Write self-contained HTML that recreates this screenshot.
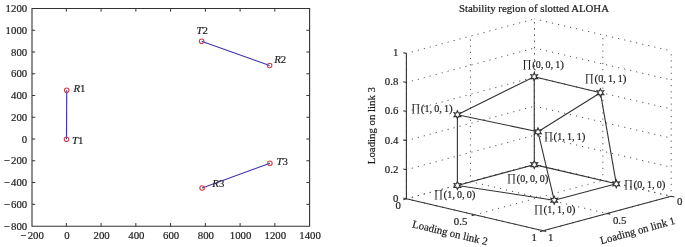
<!DOCTYPE html>
<html><head><meta charset="utf-8"><style>
html,body{margin:0;padding:0;background:#fff;}
svg{display:block;will-change:transform;}
.t{font-family:"Liberation Serif",serif;font-size:10.8px;fill:#1e1e1e;stroke:#1e1e1e;stroke-width:0.2px;}
.p{font-family:"Liberation Serif",serif;font-size:11px;fill:#1e1e1e;stroke:#1e1e1e;stroke-width:0.2px;}
.d{font-size:10px;}
</style></head><body>
<svg width="685" height="247" viewBox="0 0 685 247">
<rect width="685" height="247" fill="#fff"/>
<path d="M32.0 8.45H309.6V226.2H32.0Z" fill="none" stroke="#333" stroke-width="1.1"/>
<path d="M66.35 226.2v-3.2M66.35 8.45v3.2M101.10 226.2v-3.2M101.10 8.45v3.2M135.85 226.2v-3.2M135.85 8.45v3.2M170.60 226.2v-3.2M170.60 8.45v3.2M205.35 226.2v-3.2M205.35 8.45v3.2M240.10 226.2v-3.2M240.10 8.45v3.2M274.85 226.2v-3.2M274.85 8.45v3.2M32.0 204.30h3.2M309.6 204.30h-3.2M32.0 182.54h3.2M309.6 182.54h-3.2M32.0 160.79h3.2M309.6 160.79h-3.2M32.0 139.03h3.2M309.6 139.03h-3.2M32.0 117.28h3.2M309.6 117.28h-3.2M32.0 95.52h3.2M309.6 95.52h-3.2M32.0 73.77h3.2M309.6 73.77h-3.2M32.0 52.01h3.2M309.6 52.01h-3.2M32.0 30.26h3.2M309.6 30.26h-3.2" stroke="#333" stroke-width="1" fill="none"/>
<text x="32.10" y="239.2" text-anchor="middle" class="t">−<tspan dx="1.2">200</tspan></text>
<text x="66.85" y="239.2" text-anchor="middle" class="t">0</text>
<text x="101.60" y="239.2" text-anchor="middle" class="t">200</text>
<text x="136.35" y="239.2" text-anchor="middle" class="t">400</text>
<text x="171.10" y="239.2" text-anchor="middle" class="t">600</text>
<text x="205.85" y="239.2" text-anchor="middle" class="t">800</text>
<text x="240.60" y="239.2" text-anchor="middle" class="t">1000</text>
<text x="275.35" y="239.2" text-anchor="middle" class="t">1200</text>
<text x="310.10" y="239.2" text-anchor="middle" class="t">1400</text>
<text x="27.2" y="229.75" text-anchor="end" class="t">−<tspan dx="1.2">800</tspan></text>
<text x="27.2" y="208.00" text-anchor="end" class="t">−<tspan dx="1.2">600</tspan></text>
<text x="27.2" y="186.24" text-anchor="end" class="t">−<tspan dx="1.2">400</tspan></text>
<text x="27.2" y="164.49" text-anchor="end" class="t">−<tspan dx="1.2">200</tspan></text>
<text x="27.2" y="142.73" text-anchor="end" class="t">0</text>
<text x="27.2" y="120.98" text-anchor="end" class="t">200</text>
<text x="27.2" y="99.22" text-anchor="end" class="t">400</text>
<text x="27.2" y="77.47" text-anchor="end" class="t">600</text>
<text x="27.2" y="55.71" text-anchor="end" class="t">800</text>
<text x="27.2" y="33.96" text-anchor="end" class="t">1000</text>
<text x="27.2" y="12.20" text-anchor="end" class="t">1200</text>
<line x1="66.5" y1="139.3" x2="66.7" y2="90.2" stroke="#4036aa" stroke-width="1.15"/>
<line x1="201.6" y1="41.2" x2="269.6" y2="65.5" stroke="#4036aa" stroke-width="1.15"/>
<line x1="269.9" y1="163.3" x2="202.1" y2="188" stroke="#4036aa" stroke-width="1.15"/>
<circle cx="66.7" cy="90.2" r="2.25" fill="none" stroke="#c8444f" stroke-width="1.1"/>
<circle cx="66.5" cy="139.3" r="2.25" fill="none" stroke="#c8444f" stroke-width="1.1"/>
<circle cx="201.6" cy="41.2" r="2.25" fill="none" stroke="#c8444f" stroke-width="1.1"/>
<circle cx="269.6" cy="65.5" r="2.25" fill="none" stroke="#c8444f" stroke-width="1.1"/>
<circle cx="269.9" cy="163.3" r="2.25" fill="none" stroke="#c8444f" stroke-width="1.1"/>
<circle cx="202.1" cy="188" r="2.25" fill="none" stroke="#c8444f" stroke-width="1.1"/>
<text x="73.4" y="91.6" class="t"><tspan font-style="italic">R</tspan>1</text>
<text x="72" y="144.4" class="t"><tspan font-style="italic">T</tspan>1</text>
<text x="196.6" y="33.6" class="t"><tspan font-style="italic">T</tspan>2</text>
<text x="274.2" y="63.4" class="t"><tspan font-style="italic">R</tspan>2</text>
<text x="276.6" y="165.3" class="t"><tspan font-style="italic">T</tspan>3</text>
<text x="212.3" y="186.7" class="t"><tspan font-style="italic">R</tspan>3</text>
<path d="M406.40 198.80L534.50 164.30M534.50 164.30L671.20 196.30M474.75 214.80L602.85 180.30M470.45 181.55L607.15 213.55M543.10 230.80L671.20 196.30M406.40 198.80L543.10 230.80M406.40 198.80L534.50 164.30M534.50 164.30L671.20 196.30M406.40 169.72L534.50 135.22M534.50 135.22L671.20 167.22M406.40 140.64L534.50 106.14M534.50 106.14L671.20 138.14M406.40 111.56L534.50 77.06M534.50 77.06L671.20 109.06M406.40 82.48L534.50 47.98M534.50 47.98L671.20 79.98M406.40 53.40L534.50 18.90M534.50 18.90L671.20 50.90" stroke="#555" stroke-width="1" stroke-dasharray="1.2 4.975" stroke-dashoffset="0.6" fill="none"/>
<path d="M534.50 164.30L534.50 18.90M534.50 164.30L534.50 18.90M470.45 181.55L470.45 36.15M602.85 180.30L602.85 34.90M406.40 198.80L406.40 53.40M671.20 196.30L671.20 50.90" stroke="#555" stroke-width="1" stroke-dasharray="1.2 4.975" stroke-dashoffset="1.1" fill="none"/>
<path d="M406.40 198.80L406.40 53.40M406.40 198.80L543.10 230.80M543.10 230.80L671.20 196.30M406.40 198.80l-3.12 -0.73M406.40 169.72l-3.12 -0.73M406.40 140.64l-3.12 -0.73M406.40 111.56l-3.12 -0.73M406.40 82.48l-3.12 -0.73M406.40 53.40l-3.12 -0.73M406.40 198.80l-3.09 0.83M671.20 196.30l3.12 0.73M474.75 214.80l-3.09 0.83M607.15 213.55l3.12 0.73M543.10 230.80l-3.09 0.83M543.10 230.80l3.12 0.73" stroke="#333" stroke-width="1.1" fill="none"/>
<text x="398.3" y="201.70" text-anchor="end" class="t">0</text>
<text x="398.3" y="172.62" text-anchor="end" class="t">0.2</text>
<text x="398.3" y="143.54" text-anchor="end" class="t">0.4</text>
<text x="398.3" y="114.46" text-anchor="end" class="t">0.6</text>
<text x="398.3" y="85.38" text-anchor="end" class="t">0.8</text>
<text x="398.3" y="56.30" text-anchor="end" class="t">1</text>
<text x="398.2" y="208.50" text-anchor="middle" class="t">0</text>
<text x="460.6" y="224.80" text-anchor="middle" class="t">0.5</text>
<text x="534.2" y="241.00" text-anchor="middle" class="t">1</text>
<text x="550.7" y="241.00" text-anchor="middle" class="t">1</text>
<text x="619.7" y="224.10" text-anchor="middle" class="t">0.5</text>
<text x="679.6" y="205.30" text-anchor="middle" class="t">0</text>
<text transform="translate(375.2 125.6) rotate(-90)" text-anchor="middle" class="t">Loading on link 3</text>
<text transform="translate(449.2 236.2) rotate(13.4)" text-anchor="middle" class="t">Loading on link 2</text>
<text transform="translate(638.5 234) rotate(-15.4)" text-anchor="middle" class="t">Loading on link 1</text>
<text x="534" y="11.7" text-anchor="middle" class="t" style="stroke-width:0.22px">Stability region of slotted ALOHA</text>
<path d="M534.20 76.70L600.40 92.70M534.20 76.70L457.40 114.70M534.20 76.70L534.30 164.60M457.40 114.70L538.00 131.80M600.40 92.70L538.00 131.80M457.40 114.70L457.40 185.50M600.40 92.70L616.30 183.80M538.00 131.80L554.20 200.20M534.30 164.60L457.40 185.50M534.30 164.60L616.30 183.80M457.40 185.50L554.20 200.20M616.30 183.80L554.20 200.20" stroke="#333" stroke-width="1.1" fill="none"/>
<polygon points="534.20,72.80 535.20,74.97 537.58,74.75 536.20,76.70 537.58,78.65 535.20,78.43 534.20,80.60 533.20,78.43 530.82,78.65 532.20,76.70 530.82,74.75 533.20,74.97" fill="#fff" stroke="#333" stroke-width="1.1"/>
<polygon points="600.40,88.80 601.40,90.97 603.78,90.75 602.40,92.70 603.78,94.65 601.40,94.43 600.40,96.60 599.40,94.43 597.02,94.65 598.40,92.70 597.02,90.75 599.40,90.97" fill="#fff" stroke="#333" stroke-width="1.1"/>
<polygon points="457.40,110.80 458.40,112.97 460.78,112.75 459.40,114.70 460.78,116.65 458.40,116.43 457.40,118.60 456.40,116.43 454.02,116.65 455.40,114.70 454.02,112.75 456.40,112.97" fill="#fff" stroke="#333" stroke-width="1.1"/>
<polygon points="538.00,127.90 539.00,130.07 541.38,129.85 540.00,131.80 541.38,133.75 539.00,133.53 538.00,135.70 537.00,133.53 534.62,133.75 536.00,131.80 534.62,129.85 537.00,130.07" fill="#fff" stroke="#333" stroke-width="1.1"/>
<polygon points="534.30,160.70 535.30,162.87 537.68,162.65 536.30,164.60 537.68,166.55 535.30,166.33 534.30,168.50 533.30,166.33 530.92,166.55 532.30,164.60 530.92,162.65 533.30,162.87" fill="#fff" stroke="#333" stroke-width="1.1"/>
<polygon points="457.40,181.60 458.40,183.77 460.78,183.55 459.40,185.50 460.78,187.45 458.40,187.23 457.40,189.40 456.40,187.23 454.02,187.45 455.40,185.50 454.02,183.55 456.40,183.77" fill="#fff" stroke="#333" stroke-width="1.1"/>
<polygon points="616.30,179.90 617.30,182.07 619.68,181.85 618.30,183.80 619.68,185.75 617.30,185.53 616.30,187.70 615.30,185.53 612.92,185.75 614.30,183.80 612.92,181.85 615.30,182.07" fill="#fff" stroke="#333" stroke-width="1.1"/>
<polygon points="554.20,196.30 555.20,198.47 557.58,198.25 556.20,200.20 557.58,202.15 555.20,201.93 554.20,204.10 553.20,201.93 550.82,202.15 552.20,200.20 550.82,198.25 553.20,198.47" fill="#fff" stroke="#333" stroke-width="1.1"/>
<text x="522.3" y="68.0" class="p"><tspan dy="-0.9" stroke-width="0">∏</tspan><tspan dx="0.8" dy="0.9">(</tspan><tspan class="d">0</tspan>,<tspan class="d" dx="2">0</tspan>,<tspan class="d" dx="2">1</tspan>)</text>
<text x="584.6" y="81.8" class="p"><tspan dy="-0.9" stroke-width="0">∏</tspan><tspan dx="0.8" dy="0.9">(</tspan><tspan class="d">0</tspan>,<tspan class="d" dx="2">1</tspan>,<tspan class="d" dx="2">1</tspan>)</text>
<text x="411.0" y="111.7" class="p"><tspan dy="-0.9" stroke-width="0">∏</tspan><tspan dx="0.8" dy="0.9">(</tspan><tspan class="d">1</tspan>,<tspan class="d" dx="2">0</tspan>,<tspan class="d" dx="2">1</tspan>)</text>
<text x="543.7" y="139.5" class="p"><tspan dy="-0.9" stroke-width="0">∏</tspan><tspan dx="0.8" dy="0.9">(</tspan><tspan class="d">1</tspan>,<tspan class="d" dx="2">1</tspan>,<tspan class="d" dx="2">1</tspan>)</text>
<text x="506.7" y="181.7" class="p"><tspan dy="-0.9" stroke-width="0">∏</tspan><tspan dx="0.8" dy="0.9">(</tspan><tspan class="d">0</tspan>,<tspan class="d" dx="2">0</tspan>,<tspan class="d" dx="2">0</tspan>)</text>
<text x="433.7" y="197.8" class="p"><tspan dy="-0.9" stroke-width="0">∏</tspan><tspan dx="0.8" dy="0.9">(</tspan><tspan class="d">1</tspan>,<tspan class="d" dx="2">0</tspan>,<tspan class="d" dx="2">0</tspan>)</text>
<text x="623.7" y="188.2" class="p"><tspan dy="-0.9" stroke-width="0">∏</tspan><tspan dx="0.8" dy="0.9">(</tspan><tspan class="d">0</tspan>,<tspan class="d" dx="2">1</tspan>,<tspan class="d" dx="2">0</tspan>)</text>
<text x="533.7" y="213.0" class="p"><tspan dy="-0.9" stroke-width="0">∏</tspan><tspan dx="0.8" dy="0.9">(</tspan><tspan class="d">1</tspan>,<tspan class="d" dx="2">1</tspan>,<tspan class="d" dx="2">0</tspan>)</text>
</svg></body></html>
